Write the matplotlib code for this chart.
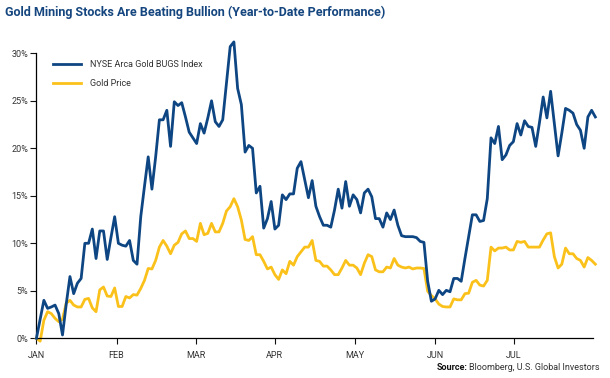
import matplotlib.pyplot as plt
import numpy as np

plt.rcParams['font.family'] = ['Roboto', 'DejaVu Sans']

# month labels and the trading-day index where each month starts
months = ['JAN', 'FEB', 'MAR', 'APR', 'MAY', 'JUN', 'JUL']
month_pos = [0, 21.5, 42.7, 64, 85.5, 107, 128.2]

# year-to-date performance, % (one value per trading day)
bugs = [0, 2.0, 4.0, 3.15, 3.3, 3.5, 2.6, 0.35, 3.6, 6.5,
        4.7, 5.8, 6.3, 10.0, 10.0, 11.5, 8.4, 11.3, 11.3, 8.3,
        10.6, 12.8, 10.0, 9.8, 9.7, 10.3, 8.2, 7.8, 12.8, 16.0,
        19.1, 15.7, 19.1, 23.0, 23.0, 24.0, 20.2, 24.9, 24.5, 24.8,
        23.3, 21.7, 21.1, 20.5, 22.6, 21.6, 23.2, 25.0, 22.8, 22.3,
        23.0, 26.8, 30.7, 31.2, 26.3, 24.6, 19.6, 20.3, 20.0, 15.3,
        16.0, 11.6, 12.6, 14.4, 11.5, 11.9, 15.1, 14.6, 15.2, 15.2,
        17.9, 18.6, 16.7, 14.8, 16.6, 13.9, 12.8, 11.9, 11.9, 11.7,
        13.5, 15.7, 13.7, 16.5, 13.9, 15.1, 14.6, 13.2, 15.3, 15.7,
        14.9, 12.6, 12.6, 11.7, 13.2, 12.5, 13.5, 11.9, 10.8, 10.7,
        10.7, 10.7, 10.6, 10.2, 10.1, 6.0, 3.9, 4.15, 5.05, 4.6,
        5.05, 4.9, 6.3, 6.3, 6.0, 8.4, 10.7, 13.0, 13.0, 12.3,
        12.4, 14.7, 21.1, 20.5, 22.3, 18.8, 19.3, 20.3, 20.7, 22.6,
        21.4, 22.9, 22.3, 22.2, 20.2, 22.7, 25.4, 23.2, 26.0, 22.6,
        19.2, 21.6, 24.2, 24.0, 23.7, 22.5, 21.9, 20.0, 23.3, 24.0, 23.3]

gold = [0, -0.3, 1.9, 2.8, 2.6, 2.1, 1.75, 2.0, 3.7, 4.0,
        3.5, 3.3, 3.3, 4.1, 4.2, 3.2, 2.8, 5.1, 5.4, 4.45,
        4.4, 5.3, 3.35, 3.35, 4.4, 4.25, 4.6, 4.55, 5.25, 6.1,
        7.35, 7.3, 8.2, 9.6, 10.3, 9.7, 8.9, 9.8, 10.1, 11.0,
        11.3, 10.5, 10.5, 10.2, 12.1, 10.9, 11.05, 12.1, 11.2, 11.2,
        12.1, 13.4, 13.85, 14.7, 13.85, 12.45, 10.4, 10.3, 10.7, 8.8,
        8.8, 8.1, 7.3, 7.5, 6.7, 6.2, 7.2, 6.8, 8.1, 7.7,
        8.6, 9.1, 9.6, 9.6, 10.3, 8.2, 8.1, 7.6, 7.6, 7.2,
        6.7, 6.7, 7.4, 8.2, 7.7, 7.7, 7.4, 6.7, 7.9, 8.8,
        8.6, 7.2, 7.0, 7.0, 7.5, 7.4, 8.4, 7.7, 7.5, 7.4,
        7.5, 7.3, 7.4, 7.4, 7.35, 4.95, 4.5, 4.15, 3.6, 3.35,
        3.3, 3.3, 4.15, 4.05, 4.05, 4.7, 4.75, 5.9, 6.1, 5.6,
        5.5, 6.1, 9.6, 9.2, 9.5, 9.5, 9.6, 9.3, 9.3, 10.2,
        10.1, 10.2, 9.6, 9.6, 9.6, 9.6, 10.35, 11.0, 11.1, 8.6,
        7.4, 7.8, 9.5, 8.9, 8.9, 8.4, 8.2, 7.5, 8.5, 8.2, 7.8]

days = np.arange(len(bugs))

blue = '#0e4683'
yellow = '#fbc11b'
text_col = '#333333'

fig = plt.figure(figsize=(6.1, 3.78), dpi=100)
ax = fig.add_axes([0.0597, 0.105, 0.912, 0.754])

ax.plot(days, bugs, color=blue, linewidth=2, label='NYSE Arca Gold BUGS Index', clip_on=False, zorder=3)
ax.plot(days, gold, color=yellow, linewidth=2, label='Gold Price', clip_on=False, zorder=2)

ax.set_xlim(0, 149.3)
ax.set_ylim(0, 30)
ax.set_yticks(np.arange(0, 31, 5))
ax.set_yticklabels([f'{v}%' for v in range(0, 31, 5)])
ax.set_xticks(month_pos)
ax.set_xticklabels(months)
ax.tick_params(axis='both', direction='out', length=4, width=0.8, labelsize=6.5,
               colors='#111111', labelcolor=text_col)
ax.tick_params(axis='x', pad=5)
ax.tick_params(axis='y', pad=2)

for side in ['top', 'right']:
    ax.spines[side].set_visible(False)
for side in ['left', 'bottom']:
    ax.spines[side].set_linewidth(0.9)

leg = ax.legend(loc='upper left', bbox_to_anchor=(0.016, 1.005), frameon=False, fontsize=6.5,
                handlelength=3.0, handletextpad=1.0, labelspacing=1.1)
for t in leg.get_texts():
    t.set_color(text_col)

fig.text(0.008, 0.985, 'Gold Mining Stocks Are Beating Bullion (Year-to-Date Performance)',
         fontsize=9, fontweight='bold', color='#15467f', va='top', ha='left')

src = fig.text(0.983, 0.015, 'Bloomberg, U.S. Global Investors', fontsize=6.5,
               ha='right', va='bottom', color=text_col)
fig.canvas.draw()
bb = src.get_window_extent()
fig.text(bb.x0 / fig.bbox.width - 0.003, 0.015, 'Source:', fontsize=6.5, fontweight='bold',
         ha='right', va='bottom', color='#111111')

fig.savefig('out.png', dpi=100)
